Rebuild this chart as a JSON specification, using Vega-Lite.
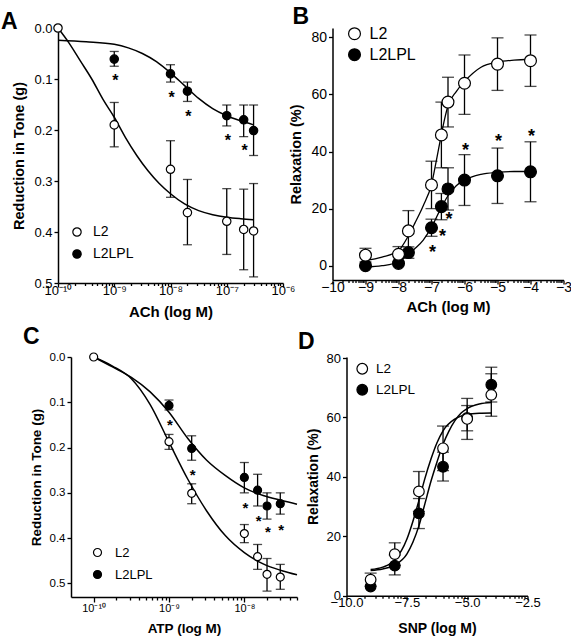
{
"$schema":"https://vega.github.io/schema/vega-lite/v6.json",
"background":"white",
"padding":{"left":1,"top":6,"right":5,"bottom":5},
"config":{"view":{"stroke":null},"font":"Liberation Sans",
"axis":{"domainColor":"black","domainWidth":1.5,"tickColor":"black","tickWidth":1.3,"tickSize":4,"labelColor":"black","titleColor":"black","labelFont":"Liberation Sans","titleFont":"Liberation Sans","titleFontWeight":"bold","grid":false,"labelFlush":false,"labelOverlap":false,"labelPadding":2},
"legend":{"title":null,"orient":"none","direction":"vertical","symbolType":"circle","symbolStrokeColor":"black","symbolStrokeWidth":1.2,"symbolOpacity":1,"labelFont":"Liberation Sans","labelColor":"black","padding":0},
"title":{"anchor":"start","frame":"group","fontWeight":"bold","font":"Liberation Sans","color":"black","baseline":"alphabetic","offset":0}},
"datasets":{
"ptsA":[
{"lx":-9,"y":0.061,"lo":0.046,"hi":0.075,"g":"L2LPL"},
{"lx":-8,"y":0.090,"lo":0.072,"hi":0.106,"g":"L2LPL"},
{"lx":-7.699,"y":0.124,"lo":0.106,"hi":0.144,"g":"L2LPL"},
{"lx":-7,"y":0.172,"lo":0.151,"hi":0.192,"g":"L2LPL"},
{"lx":-6.699,"y":0.180,"lo":0.151,"hi":0.213,"g":"L2LPL"},
{"lx":-6.523,"y":0.201,"lo":0.151,"hi":0.250,"g":"L2LPL"},
{"lx":-10,"y":0.0,"g":"L2"},
{"lx":-9,"y":0.190,"lo":0.146,"hi":0.233,"g":"L2"},
{"lx":-8,"y":0.277,"lo":0.221,"hi":0.332,"g":"L2"},
{"lx":-7.699,"y":0.362,"lo":0.297,"hi":0.425,"g":"L2"},
{"lx":-7,"y":0.379,"lo":0.315,"hi":0.444,"g":"L2"},
{"lx":-6.699,"y":0.395,"lo":0.316,"hi":0.474,"g":"L2"},
{"lx":-6.523,"y":0.398,"lo":0.305,"hi":0.488,"g":"L2"}],
"starsA":[{"lx":-9,"sy":0.096},{"lx":-8,"sy":0.128},{"lx":-7.699,"sy":0.165},{"lx":-7,"sy":0.212},{"lx":-6.699,"sy":0.233}],
"curveA":[
{"lx":-10,"y":0.0,"g":"L2"},{"lx":-9.8,"y":0.03,"g":"L2"},{"lx":-9.6,"y":0.065,"g":"L2"},{"lx":-9.4,"y":0.10,"g":"L2"},{"lx":-9.2,"y":0.14,"g":"L2"},{"lx":-9.0,"y":0.175,"g":"L2"},{"lx":-8.8,"y":0.215,"g":"L2"},{"lx":-8.6,"y":0.25,"g":"L2"},{"lx":-8.4,"y":0.28,"g":"L2"},{"lx":-8.2,"y":0.305,"g":"L2"},{"lx":-8.0,"y":0.325,"g":"L2"},{"lx":-7.75,"y":0.345,"g":"L2"},{"lx":-7.5,"y":0.358,"g":"L2"},{"lx":-7.25,"y":0.366,"g":"L2"},{"lx":-7.0,"y":0.371,"g":"L2"},{"lx":-6.75,"y":0.374,"g":"L2"},{"lx":-6.523,"y":0.376,"g":"L2"},
{"lx":-10,"y":0.024,"g":"L2LPL"},{"lx":-9.5,"y":0.027,"g":"L2LPL"},{"lx":-9,"y":0.032,"g":"L2LPL"},{"lx":-8.75,"y":0.039,"g":"L2LPL"},{"lx":-8.5,"y":0.050,"g":"L2LPL"},{"lx":-8.25,"y":0.066,"g":"L2LPL"},{"lx":-8,"y":0.088,"g":"L2LPL"},{"lx":-7.75,"y":0.113,"g":"L2LPL"},{"lx":-7.5,"y":0.138,"g":"L2LPL"},{"lx":-7.25,"y":0.158,"g":"L2LPL"},{"lx":-7,"y":0.172,"g":"L2LPL"},{"lx":-6.75,"y":0.182,"g":"L2LPL"},{"lx":-6.523,"y":0.190,"g":"L2LPL"}],
"ptsB":[
{"lx":-9,"y":0.0,"g":"L2LPL"},
{"lx":-8,"y":0.8,"g":"L2LPL"},
{"lx":-7.7,"y":4.6,"lo":2.6,"hi":6.6,"g":"L2LPL"},
{"lx":-7,"y":13.3,"lo":10.3,"hi":16.3,"g":"L2LPL"},
{"lx":-6.7,"y":20.7,"lo":16.1,"hi":25.3,"g":"L2LPL"},
{"lx":-6.5,"y":26.9,"lo":19.5,"hi":34.3,"g":"L2LPL"},
{"lx":-6,"y":30.0,"lo":21.1,"hi":38.9,"g":"L2LPL"},
{"lx":-5,"y":31.5,"lo":21.8,"hi":41.2,"g":"L2LPL"},
{"lx":-4,"y":32.9,"lo":22.4,"hi":43.4,"g":"L2LPL"},
{"lx":-9,"y":3.7,"lo":1.3,"hi":6.1,"g":"L2"},
{"lx":-8,"y":4.0,"lo":1.3,"hi":6.7,"g":"L2"},
{"lx":-7.7,"y":12.2,"lo":5.1,"hi":19.3,"g":"L2"},
{"lx":-7,"y":28.3,"lo":20.0,"hi":36.6,"g":"L2"},
{"lx":-6.7,"y":45.8,"lo":34.3,"hi":57.3,"g":"L2"},
{"lx":-6.5,"y":57.3,"lo":48.6,"hi":66.0,"g":"L2"},
{"lx":-6,"y":63.9,"lo":53.0,"hi":73.8,"g":"L2"},
{"lx":-5,"y":70.6,"lo":61.4,"hi":79.8,"g":"L2"},
{"lx":-4,"y":71.8,"lo":62.8,"hi":80.8,"g":"L2"}],
"starsB":[{"lx":-7,"sy":6.5},{"lx":-6.7,"sy":12.0},{"lx":-6.5,"sy":17.9},{"lx":-6,"sy":42.0},{"lx":-5,"sy":45.2},{"lx":-4,"sy":47.0}],
"curveB":[
{"lx":-9,"y":1.8,"g":"L2"},{"lx":-8.5,"y":3.0,"g":"L2"},{"lx":-8,"y":5.3,"g":"L2"},{"lx":-7.7,"y":10.5,"g":"L2"},{"lx":-7.5,"y":15,"g":"L2"},{"lx":-7.25,"y":21,"g":"L2"},{"lx":-7,"y":28.5,"g":"L2"},{"lx":-6.85,"y":37,"g":"L2"},{"lx":-6.7,"y":46,"g":"L2"},{"lx":-6.6,"y":51.5,"g":"L2"},{"lx":-6.5,"y":56,"g":"L2"},{"lx":-6.25,"y":61,"g":"L2"},{"lx":-6,"y":64.5,"g":"L2"},{"lx":-5.5,"y":69.5,"g":"L2"},{"lx":-5,"y":71.3,"g":"L2"},{"lx":-4.5,"y":72,"g":"L2"},{"lx":-4,"y":72.3,"g":"L2"},
{"lx":-9,"y":-0.5,"g":"L2LPL"},{"lx":-8.5,"y":0.0,"g":"L2LPL"},{"lx":-8,"y":1.3,"g":"L2LPL"},{"lx":-7.7,"y":4.0,"g":"L2LPL"},{"lx":-7.5,"y":6.0,"g":"L2LPL"},{"lx":-7.25,"y":9.0,"g":"L2LPL"},{"lx":-7,"y":13.5,"g":"L2LPL"},{"lx":-6.75,"y":19.3,"g":"L2LPL"},{"lx":-6.5,"y":24.5,"g":"L2LPL"},{"lx":-6.25,"y":28.0,"g":"L2LPL"},{"lx":-6,"y":30.0,"g":"L2LPL"},{"lx":-5.5,"y":32.0,"g":"L2LPL"},{"lx":-5,"y":32.7,"g":"L2LPL"},{"lx":-4.5,"y":33.0,"g":"L2LPL"},{"lx":-4,"y":33.0,"g":"L2LPL"}],
"ptsC":[
{"lx":-9,"y":0.107,"lo":0.095,"hi":0.117,"g":"L2LPL"},
{"lx":-8.699,"y":0.202,"lo":0.174,"hi":0.228,"g":"L2LPL"},
{"lx":-8,"y":0.266,"lo":0.233,"hi":0.300,"g":"L2LPL"},
{"lx":-7.824,"y":0.294,"lo":0.259,"hi":0.329,"g":"L2LPL"},
{"lx":-7.699,"y":0.329,"lo":0.300,"hi":0.358,"g":"L2LPL"},
{"lx":-7.523,"y":0.324,"lo":0.300,"hi":0.347,"g":"L2LPL"},
{"lx":-10,"y":0.0,"g":"L2"},
{"lx":-9,"y":0.187,"lo":0.171,"hi":0.204,"g":"L2"},
{"lx":-8.699,"y":0.301,"lo":0.280,"hi":0.324,"g":"L2"},
{"lx":-8,"y":0.390,"lo":0.370,"hi":0.410,"g":"L2"},
{"lx":-7.824,"y":0.441,"lo":0.414,"hi":0.469,"g":"L2"},
{"lx":-7.699,"y":0.480,"lo":0.445,"hi":0.517,"g":"L2"},
{"lx":-7.523,"y":0.486,"lo":0.458,"hi":0.513,"g":"L2"}],
"starsC":[{"lx":-9,"sy":0.141},{"lx":-8.699,"sy":0.252},{"lx":-8,"sy":0.324},{"lx":-7.824,"sy":0.353},{"lx":-7.699,"sy":0.377},{"lx":-7.523,"sy":0.373}],
"curveC":[
{"lx":-10,"y":0.0,"g":"L2"},{"lx":-9.75,"y":0.02,"g":"L2"},{"lx":-9.5,"y":0.048,"g":"L2"},{"lx":-9.25,"y":0.105,"g":"L2"},{"lx":-9,"y":0.188,"g":"L2"},{"lx":-8.75,"y":0.27,"g":"L2"},{"lx":-8.5,"y":0.34,"g":"L2"},{"lx":-8.25,"y":0.395,"g":"L2"},{"lx":-8,"y":0.432,"g":"L2"},{"lx":-7.75,"y":0.457,"g":"L2"},{"lx":-7.5,"y":0.472,"g":"L2"},{"lx":-7.301,"y":0.481,"g":"L2"},
{"lx":-10,"y":0.0,"g":"L2LPL"},{"lx":-9.75,"y":0.022,"g":"L2LPL"},{"lx":-9.5,"y":0.045,"g":"L2LPL"},{"lx":-9.25,"y":0.077,"g":"L2LPL"},{"lx":-9,"y":0.122,"g":"L2LPL"},{"lx":-8.75,"y":0.18,"g":"L2LPL"},{"lx":-8.5,"y":0.228,"g":"L2LPL"},{"lx":-8.25,"y":0.262,"g":"L2LPL"},{"lx":-8,"y":0.289,"g":"L2LPL"},{"lx":-7.75,"y":0.306,"g":"L2LPL"},{"lx":-7.5,"y":0.317,"g":"L2LPL"},{"lx":-7.301,"y":0.325,"g":"L2LPL"}],
"ptsD":[
{"lx":-9,"y":3.1,"g":"L2LPL"},
{"lx":-8,"y":10.1,"lo":7.0,"hi":13.7,"g":"L2LPL"},
{"lx":-7,"y":27.7,"lo":22.6,"hi":32.7,"g":"L2LPL"},
{"lx":-6,"y":43.4,"lo":38.6,"hi":48.3,"g":"L2LPL"},
{"lx":-5,"y":59.8,"lo":55.5,"hi":64.0,"g":"L2LPL"},
{"lx":-4,"y":71.0,"lo":65.2,"hi":76.9,"g":"L2LPL"},
{"lx":-9,"y":5.4,"lo":3.2,"hi":7.6,"g":"L2"},
{"lx":-8,"y":14.0,"lo":10.2,"hi":17.8,"g":"L2"},
{"lx":-7,"y":35.1,"lo":28.4,"hi":41.8,"g":"L2"},
{"lx":-6,"y":49.6,"lo":42.1,"hi":57.1,"g":"L2"},
{"lx":-5,"y":59.5,"lo":52.6,"hi":66.4,"g":"L2"},
{"lx":-4,"y":67.6,"lo":60.4,"hi":74.7,"g":"L2"}],
"curveD":[
{"lx":-9,"y":8.8,"g":"L2"},{"lx":-8.5,"y":9.6,"g":"L2"},{"lx":-8,"y":12.0,"g":"L2"},{"lx":-7.5,"y":19,"g":"L2"},{"lx":-7.25,"y":25,"g":"L2"},{"lx":-7,"y":32,"g":"L2"},{"lx":-6.75,"y":39.5,"g":"L2"},{"lx":-6.5,"y":46,"g":"L2"},{"lx":-6.25,"y":51.5,"g":"L2"},{"lx":-6,"y":55.5,"g":"L2"},{"lx":-5.5,"y":59.5,"g":"L2"},{"lx":-5,"y":61,"g":"L2"},{"lx":-4.5,"y":61.4,"g":"L2"},{"lx":-4,"y":61.5,"g":"L2"},
{"lx":-9,"y":8.5,"g":"L2LPL"},{"lx":-8.5,"y":9.0,"g":"L2LPL"},{"lx":-8,"y":10.3,"g":"L2LPL"},{"lx":-7.5,"y":14,"g":"L2LPL"},{"lx":-7.25,"y":18,"g":"L2LPL"},{"lx":-7,"y":23.5,"g":"L2LPL"},{"lx":-6.75,"y":31,"g":"L2LPL"},{"lx":-6.5,"y":38.5,"g":"L2LPL"},{"lx":-6.25,"y":45,"g":"L2LPL"},{"lx":-6,"y":51,"g":"L2LPL"},{"lx":-5.75,"y":55.5,"g":"L2LPL"},{"lx":-5.5,"y":59,"g":"L2LPL"},{"lx":-5.25,"y":61.5,"g":"L2LPL"},{"lx":-5,"y":63,"g":"L2LPL"},{"lx":-4.5,"y":64.5,"g":"L2LPL"},{"lx":-4,"y":65,"g":"L2LPL"}]
},
"columns":2,
"bounds":"flush",
"spacing":{"row":74,"column":35.5},
"resolve":{"scale":{"x":"independent","y":"independent","fill":"independent"},"legend":{"fill":"independent"}},
"concat":[
{"width":225,"height":255,
 "title":{"text":"A","fontSize":23,"dx":-57,"dy":17},
 "resolve":{"axis":{"x":"independent"}},
 "layer":[
  {"data":{"name":"curveA"},"mark":{"type":"line","color":"black","strokeWidth":1.5,"interpolate":"monotone"},
   "encoding":{
    "x":{"field":"lx","type":"quantitative","scale":{"domain":[-10,-6],"nice":false,"zero":false},
      "axis":{"orient":"bottom","title":"ACh (log M)","titleFontSize":15,"labelFontSize":13,"labelPadding":-3,"titlePadding":7,"values":[-10,-9,-8,-7,-6],
       "labelExpr":"'10' + (datum.value == -10 ? '⁻¹⁰' : datum.value == -9 ? '⁻⁹' : datum.value == -8 ? '⁻⁸' : datum.value == -7 ? '⁻⁷' : '⁻⁶')"}},
    "y":{"field":"y","type":"quantitative","scale":{"domain":[0,0.5],"reverse":true,"nice":false,"zero":false},
      "axis":{"title":"Reduction in Tone (g)","titleFontSize":14.5,"labelFontSize":13,"titlePadding":7,"values":[0,0.1,0.2,0.3,0.4,0.5],"format":".1f"}},
    "detail":{"field":"g"}}},
  {"data":{"name":"ptsA"},"mark":{"type":"rule","color":"black","strokeWidth":1.3},
   "encoding":{"x":{"field":"lx","type":"quantitative","axis":{"orient":"bottom","title":null,"labels":false,"domain":false,"tickSize":2.5,
       "values":[-9.699,-9.523,-9.398,-9.301,-9.222,-9.155,-9.097,-9.046,-8.699,-8.523,-8.398,-8.301,-8.222,-8.155,-8.097,-8.046,-7.699,-7.523,-7.398,-7.301,-7.222,-7.155,-7.097,-7.046,-6.699,-6.523,-6.398,-6.301,-6.222,-6.155,-6.097,-6.046]}},
    "y":{"field":"lo","type":"quantitative"},"y2":{"field":"hi"}}},
  {"data":{"name":"ptsA"},"mark":{"type":"tick","orient":"horizontal","color":"black","size":9,"thickness":1.3},
   "encoding":{"x":{"field":"lx","type":"quantitative","axis":null},"y":{"field":"lo","type":"quantitative"}}},
  {"data":{"name":"ptsA"},"mark":{"type":"tick","orient":"horizontal","color":"black","size":9,"thickness":1.3},
   "encoding":{"x":{"field":"lx","type":"quantitative","axis":null},"y":{"field":"hi","type":"quantitative"}}},
  {"data":{"name":"ptsA"},"mark":{"type":"point","filled":true,"stroke":"black","strokeWidth":1.2,"size":70,"opacity":1},
   "encoding":{"x":{"field":"lx","type":"quantitative","axis":null},"y":{"field":"y","type":"quantitative"},
    "fill":{"field":"g","type":"nominal","scale":{"domain":["L2","L2LPL"],"range":["white","black"]},
     "legend":{"legendX":12,"legendY":197,"symbolSize":70,"labelFontSize":14,"rowPadding":8,"labelOffset":9}}}},
  {"data":{"name":"starsA"},"mark":{"type":"text","text":"*","fontSize":16,"fontWeight":"bold","font":"Liberation Sans","baseline":"alphabetic","dy":9.4,"dx":1,"color":"black"},
   "encoding":{"x":{"field":"lx","type":"quantitative","axis":null},"y":{"field":"sy","type":"quantitative"}}}
 ]},
{"width":231,"height":252,
 "title":{"text":"B","fontSize":23,"dx":-40,"dy":7.7},
 "resolve":{"axis":{"x":"independent"}},
 "layer":[
  {"data":{"name":"curveB"},"mark":{"type":"line","color":"black","strokeWidth":1.3,"interpolate":"monotone"},
   "encoding":{
    "x":{"field":"lx","type":"quantitative","scale":{"domain":[-10,-3],"nice":false,"zero":false},
      "axis":{"orient":"bottom","title":"ACh (log M)","titleFontSize":15,"labelFontSize":14,"labelPadding":-4,"titlePadding":5,"values":[-10,-9,-8,-7,-6,-5,-4,-3],"format":"d"}},
    "y":{"field":"y","type":"quantitative","scale":{"domain":[-5,83.25],"nice":false,"zero":false},
      "axis":{"title":"Relaxation (%)","titleFontSize":14.5,"labelFontSize":14,"titlePadding":7,"values":[0,10,20,30,40,50,60,70,80]}},
    "detail":{"field":"g"}}},
  {"data":{"name":"ptsB"},"mark":{"type":"rule","color":"black","strokeWidth":1.3},
   "encoding":{"x":{"field":"lx","type":"quantitative","axis":{"orient":"bottom","title":null,"labels":false,"domain":false,"tickSize":2.5,
       "values":[-9.699,-9.523,-9.398,-9.301,-9.222,-9.155,-9.097,-9.046,-8.699,-8.523,-8.398,-8.301,-8.222,-8.155,-8.097,-8.046,-7.699,-7.523,-7.398,-7.301,-7.222,-7.155,-7.097,-7.046,-6.699,-6.523,-6.398,-6.301,-6.222,-6.155,-6.097,-6.046,-5.699,-5.523,-5.398,-5.301,-5.222,-5.155,-5.097,-5.046,-4.699,-4.523,-4.398,-4.301,-4.222,-4.155,-4.097,-4.046,-3.699,-3.523,-3.398,-3.301,-3.222,-3.155,-3.097,-3.046]}},
    "y":{"field":"lo","type":"quantitative"},"y2":{"field":"hi"}}},
  {"data":{"name":"ptsB"},"mark":{"type":"tick","orient":"horizontal","color":"black","size":12,"thickness":1.3},
   "encoding":{"x":{"field":"lx","type":"quantitative","axis":null},"y":{"field":"lo","type":"quantitative"}}},
  {"data":{"name":"ptsB"},"mark":{"type":"tick","orient":"horizontal","color":"black","size":12,"thickness":1.3},
   "encoding":{"x":{"field":"lx","type":"quantitative","axis":null},"y":{"field":"hi","type":"quantitative"}}},
  {"data":{"name":"ptsB"},"mark":{"type":"point","filled":true,"stroke":"black","strokeWidth":1.2,"size":140,"opacity":1},
   "encoding":{"x":{"field":"lx","type":"quantitative","axis":null},"y":{"field":"y","type":"quantitative"},
    "fill":{"field":"g","type":"nominal","scale":{"domain":["L2","L2LPL"],"range":["white","black"]},
     "legend":{"legendX":14,"legendY":-2.3,"symbolSize":140,"labelFontSize":16,"rowPadding":3,"labelOffset":7}}}},
  {"data":{"name":"starsB"},"mark":{"type":"text","text":"*","fontSize":18,"fontWeight":"bold","font":"Liberation Sans","baseline":"alphabetic","dy":10.5,"dx":1,"color":"black"},
   "encoding":{"x":{"field":"lx","type":"quantitative","axis":null},"y":{"field":"sy","type":"quantitative"}}}
 ]},
{"width":239,"height":240,
 "title":{"text":"C","fontSize":23,"dx":-35,"dy":2},
 "resolve":{"axis":{"x":"independent"}},
 "layer":[
  {"data":{"name":"curveC"},"mark":{"type":"line","color":"black","strokeWidth":1.5,"interpolate":"monotone"},
   "encoding":{
    "x":{"field":"lx","type":"quantitative","scale":{"domain":[-10.301,-7.301],"range":[13,239],"nice":false,"zero":false},
      "axis":{"orient":"bottom","title":"ATP (log M)","titleFontSize":13.5,"labelFontSize":11,"labelPadding":0,"titlePadding":8,"tickSize":5,"values":[-10,-9,-8],
       "labelExpr":"'10' + (datum.value == -10 ? '⁻¹⁰' : datum.value == -9 ? '⁻⁹' : '⁻⁸')"}},
    "y":{"field":"y","type":"quantitative","scale":{"domain":[0,0.53],"reverse":true,"nice":false,"zero":false},
      "axis":{"title":"Reduction in Tone (g)","offset":-13,"titleFontSize":13.5,"labelFontSize":11.5,"titlePadding":6,"values":[0,0.1,0.2,0.3,0.4,0.5],"format":".1f"}},
    "detail":{"field":"g"}}},
  {"data":{"name":"ptsC"},"mark":{"type":"rule","color":"black","strokeWidth":1.3},
   "encoding":{"x":{"field":"lx","type":"quantitative","axis":{"orient":"bottom","title":null,"labels":false,"domain":false,"tickSize":3,
       "values":[-9.699,-9.523,-9.398,-9.301,-9.222,-9.155,-9.097,-9.046,-8.699,-8.523,-8.398,-8.301,-8.222,-8.155,-8.097,-8.046,-7.699,-7.523,-7.398,-7.301]}},
    "y":{"field":"lo","type":"quantitative"},"y2":{"field":"hi"}}},
  {"data":{"name":"ptsC"},"mark":{"type":"tick","orient":"horizontal","color":"black","size":9,"thickness":1.3},
   "encoding":{"x":{"field":"lx","type":"quantitative","axis":null},"y":{"field":"lo","type":"quantitative"}}},
  {"data":{"name":"ptsC"},"mark":{"type":"tick","orient":"horizontal","color":"black","size":9,"thickness":1.3},
   "encoding":{"x":{"field":"lx","type":"quantitative","axis":null},"y":{"field":"hi","type":"quantitative"}}},
  {"data":{"name":"ptsC"},"mark":{"type":"point","filled":true,"stroke":"black","strokeWidth":1.2,"size":64,"opacity":1},
   "encoding":{"x":{"field":"lx","type":"quantitative","axis":null},"y":{"field":"y","type":"quantitative"},
    "fill":{"field":"g","type":"nominal","scale":{"domain":["L2","L2LPL"],"range":["white","black"]},
     "legend":{"legendX":33,"legendY":189,"symbolSize":64,"labelFontSize":13,"rowPadding":8,"labelOffset":11}}}},
  {"data":{"name":"starsC"},"mark":{"type":"text","text":"*","fontSize":15,"fontWeight":"bold","font":"Liberation Sans","baseline":"alphabetic","dy":8.8,"dx":1,"color":"black"},
   "encoding":{"x":{"field":"lx","type":"quantitative","axis":null},"y":{"field":"sy","type":"quantitative"}}}
 ]},
{"width":195,"height":238.7,
 "title":{"text":"D","fontSize":23,"dx":-34.5,"dy":6},
 "resolve":{"axis":{"x":"independent"}},
 "layer":[
  {"data":{"name":"curveD"},"mark":{"type":"line","color":"black","strokeWidth":1.5,"interpolate":"monotone"},
   "encoding":{
    "x":{"field":"lx","type":"quantitative","scale":{"domain":[-10,-2.5],"range":[14,195],"nice":false,"zero":false},
      "axis":{"orient":"bottom","title":"SNP (log M)","titleFontSize":14,"labelFontSize":13,"labelPadding":-3,"titlePadding":12,"values":[-10,-7.5,-5,-2.5],"format":".1f"}},
    "y":{"field":"y","type":"quantitative","scale":{"domain":[0,80.34],"nice":false,"zero":false},
      "axis":{"title":"Relaxation (%)","offset":-14,"titleFontSize":14,"labelFontSize":13,"titlePadding":6,"values":[0,10,20,30,40,50,60,70,80]}},
    "detail":{"field":"g"}}},
  {"data":{"name":"ptsD"},"mark":{"type":"rule","color":"black","strokeWidth":1.3},
   "encoding":{"x":{"field":"lx","type":"quantitative","axis":{"orient":"bottom","title":null,"labels":false,"domain":false,"tickSize":2.5,
       "values":[-9.247,-8.807,-8.495,-8.253,-8.055,-7.887,-7.742,-7.614,-6.747,-6.307,-5.995,-5.753,-5.555,-5.387,-5.242,-5.114,-4.247,-3.807,-3.495,-3.253,-3.055,-2.887,-2.742,-2.614]}},
    "y":{"field":"lo","type":"quantitative"},"y2":{"field":"hi"}}},
  {"data":{"name":"ptsD"},"mark":{"type":"tick","orient":"horizontal","color":"black","size":12,"thickness":1.3},
   "encoding":{"x":{"field":"lx","type":"quantitative","axis":null},"y":{"field":"lo","type":"quantitative"}}},
  {"data":{"name":"ptsD"},"mark":{"type":"tick","orient":"horizontal","color":"black","size":12,"thickness":1.3},
   "encoding":{"x":{"field":"lx","type":"quantitative","axis":null},"y":{"field":"hi","type":"quantitative"}}},
  {"data":{"name":"ptsD"},"mark":{"type":"point","filled":true,"stroke":"black","strokeWidth":1.2,"size":113,"opacity":1},
   "encoding":{"x":{"field":"lx","type":"quantitative","axis":null},"y":{"field":"y","type":"quantitative"},
    "fill":{"field":"g","type":"nominal","scale":{"domain":["L2","L2LPL"],"range":["white","black"]},
     "legend":{"legendX":23,"legendY":5,"symbolSize":113,"labelFontSize":13.5,"rowPadding":5,"labelOffset":7}}}}
 ]}
]
}
